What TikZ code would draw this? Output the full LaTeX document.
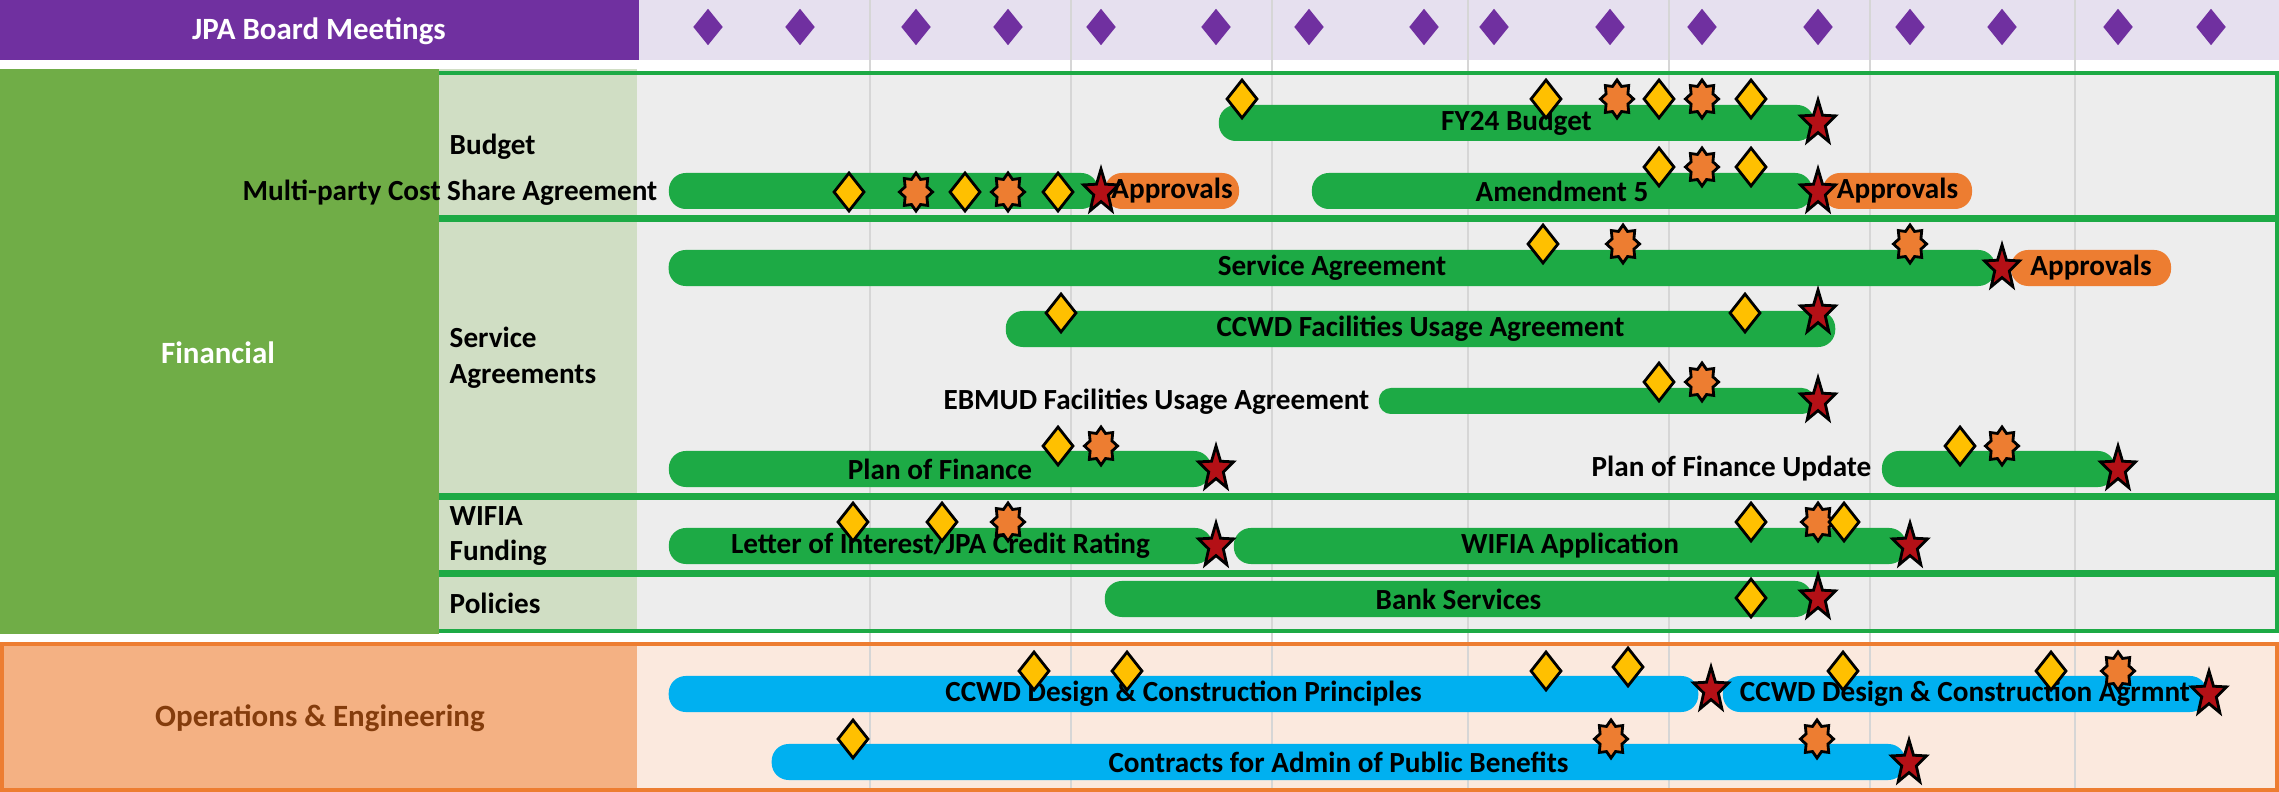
\documentclass[tikz,border=0pt]{standalone}
\usepackage{fontspec}
\setmainfont{Carlito}
\usetikzlibrary{shapes.geometric}
\definecolor{boardpurple}{RGB}{112,48,160}
\definecolor{boardband}{RGB}{230,224,239}
\definecolor{fingreen}{RGB}{112,173,71}
\definecolor{subgreen}{RGB}{208,222,196}
\definecolor{timegray}{RGB}{237,237,237}
\definecolor{taskgreen}{RGB}{29,170,69}
\definecolor{apporange}{RGB}{237,125,49}
\definecolor{opsorange}{RGB}{244,177,131}
\definecolor{opspeach}{RGB}{251,233,222}
\definecolor{opsbrown}{RGB}{132,60,12}
\definecolor{opsblue}{RGB}{0,176,240}
\definecolor{mileyellow}{RGB}{255,192,0}
\definecolor{finalred}{RGB}{180,16,22}
\definecolor{gridgray}{RGB}{214,214,214}
\newcommand{\barfont}{\bfseries\fontsize{8.3}{10.2}\selectfont}
\newcommand{\headfont}{\bfseries\fontsize{8.8}{10.6}\selectfont}
\tikzset{
  taskbar/.style={rounded corners=0.17cm, minimum height=0.36cm, inner sep=0pt, font=\barfont},
  finbar/.style={taskbar, fill=taskgreen},
  apprbar/.style={taskbar, fill=apporange},
  opsbar/.style={taskbar, fill=opsblue},
  rowlabel/.style={font=\barfont, inner sep=0pt, align=left},
  groupbox/.style={draw=taskgreen, line width=1.1pt},
  gridline/.style={draw=gridgray, line width=0.45pt},
  meeting/.style={diamond, fill=boardpurple, inner sep=0pt, minimum width=0.30cm, minimum height=0.37cm},
  review/.style={diamond, draw=black, line width=0.8pt, fill=mileyellow, inner sep=0pt, minimum width=0.31cm, minimum height=0.39cm},
  signoff/.style={star, star points=8, star point ratio=1.4, draw=black, line width=0.8pt, fill=apporange, inner sep=0pt, minimum size=0.38cm, xscale=0.87, transform shape},
  deadline/.style={star, star points=5, star point ratio=2.4, draw=black, line width=0.8pt, fill=finalred, inner sep=0pt, minimum size=0.46cm, xscale=0.8, transform shape},
}

\begin{document}
\begin{tikzpicture}[x=0.01cm, y=-0.01cm]
  \useasboundingbox (0,0) rectangle (2279,792);
  % backgrounds
  \fill[boardpurple] (0,0) rectangle (639,60);
  \fill[boardband] (639,0) rectangle (2279,60);
  \fill[fingreen] (0,69) rectangle (439,634);
  \fill[subgreen] (439,69) rectangle (637,632);
  \fill[timegray] (637,73) rectangle (2277,632);
  \fill[opsorange] (2,644) rectangle (637,790);
  \fill[opspeach] (637,644) rectangle (2277,790);
  \foreach \x in {870,1071,1272,1468,1669,1870,2075}
    \draw[gridline] (\x,0) -- (\x,792);
  % row groups, open on the left
  \foreach \top/\bot in {73/217,220/495,498/572,575/631}
    \draw[groupbox] (439,\top) -- (2277,\top) -- (2277,\bot) -- (439,\bot);
  \draw[apporange, line width=1.1pt] (2,644) rectangle (2277,790);

  % headings
  \node[font=\headfont, text=white] (board) at (319,31) {JPA Board Meetings};
  \node[font=\headfont, text=white] (financial) at (218,353) {Financial};
  \node[font=\headfont, text=opsbrown] (ops) at (320,718) {Operations \& Engineering};
  \node[rowlabel, anchor=west] (budget) at (449,147) {Budget};
  \node[rowlabel, anchor=west] (services) at (449,358) {Service\\Agreements};
  \node[rowlabel, anchor=west] (funding) at (449,536) {WIFIA\\Funding};
  \node[rowlabel, anchor=west] (policies) at (449,603) {Policies};

  % task bars
  \node[finbar, minimum width=5.95cm] (fybudget) at (1516.5,123) {FY24 Budget};
  \node[finbar, minimum width=4.29cm] (costshare) at (883.5,191) {};
  \node[rowlabel, anchor=east] (costlbl) at (658,193) {Multi-party Cost Share Agreement};
  \node[apprbar, minimum width=1.34cm] (approvA) at (1172,191) {Approvals};
  \node[finbar, minimum width=5.00cm] (amend) at (1562,191) {Amendment 5};
  \node[apprbar, minimum width=1.49cm] (approvB) at (1897.5,191) {Approvals};
  \node[finbar, minimum width=13.26cm] (service) at (1332,268) {Service Agreement};
  \node[apprbar, minimum width=1.60cm] (approvC) at (2091,268) {Approvals};
  \node[finbar, minimum width=8.29cm] (ccwdfac) at (1420.5,329) {CCWD Facilities Usage Agreement};
  \node[finbar, minimum width=4.35cm, minimum height=0.26cm, rounded corners=0.12cm] (ebmud) at (1596.5,401) {};
  \node[rowlabel, anchor=east] (ebmudlbl) at (1370,402) {EBMUD Facilities Usage Agreement};
  \node[finbar, minimum width=5.42cm] (finplan) at (940,469) {Plan of Finance};
  \node[finbar, minimum width=2.33cm] (finupdate) at (1998.5,469) {};
  \node[rowlabel, anchor=east] (updatelbl) at (1872,469) {Plan of Finance Update};
  \node[finbar, minimum width=5.43cm] (credit) at (940.5,546) {Letter of Interest/JPA Credit Rating};
  \node[finbar, minimum width=6.72cm] (wifia) at (1570,546) {WIFIA Application};
  \node[finbar, minimum width=7.07cm] (bank) at (1458.5,599) {Bank Services};
  \node[opsbar, minimum width=10.29cm] (principles) at (1183.5,694) {CCWD Design \& Construction Principles};
  \node[opsbar, minimum width=4.84cm] (agreement) at (1965,694) {CCWD Design \& Construction Agrmnt};
  \node[opsbar, minimum width=11.33cm] (benefits) at (1338.5,762) {Contracts for Admin of Public Benefits};

  % milestones
  \foreach \x [count=\i] in {708,800,916,1008,1101,1216,1309,1424,1494,1610,1702,1818,1910,2002,2118,2211}
    \node[meeting] (mtg\i) at (\x,27) {};
  \foreach \x/\y [count=\i] in {1617/99,1702/99,916/192,1008/192,1702/167,1623/244,1910/244,1702/382,
      1101/446,2002/446,1008/522,1818/522,2118/671,1611/739,1817/739}
    \node[signoff] (so\i) at (\x,\y) {};
  \foreach \x/\y [count=\i] in {1242/99,1546/99,1659/99,1751/99,849/192,965/192,1058/192,1659/167,1751/167,
      1543/244,1061/313,1745/313,1659/382,1058/446,1960/446,853/522,942/522,1751/522,1844/522,1751/598,
      1034/671,1127/671,1546/671,1628/667,1843/671,2051/671,853/739}
    \node[review] (rv\i) at (\x,\y) {};
  \foreach \x/\y [count=\i] in {1818/123,1101/192,1818/192,2002/268,1818/313,1818/401,1216/469,2118/469,
      1216/546,1910/546,1818/598,1711/690,2209/694,1909/763}
    \node[deadline] (dl\i) at (\x,\y) {};
\end{tikzpicture}
\end{document}
